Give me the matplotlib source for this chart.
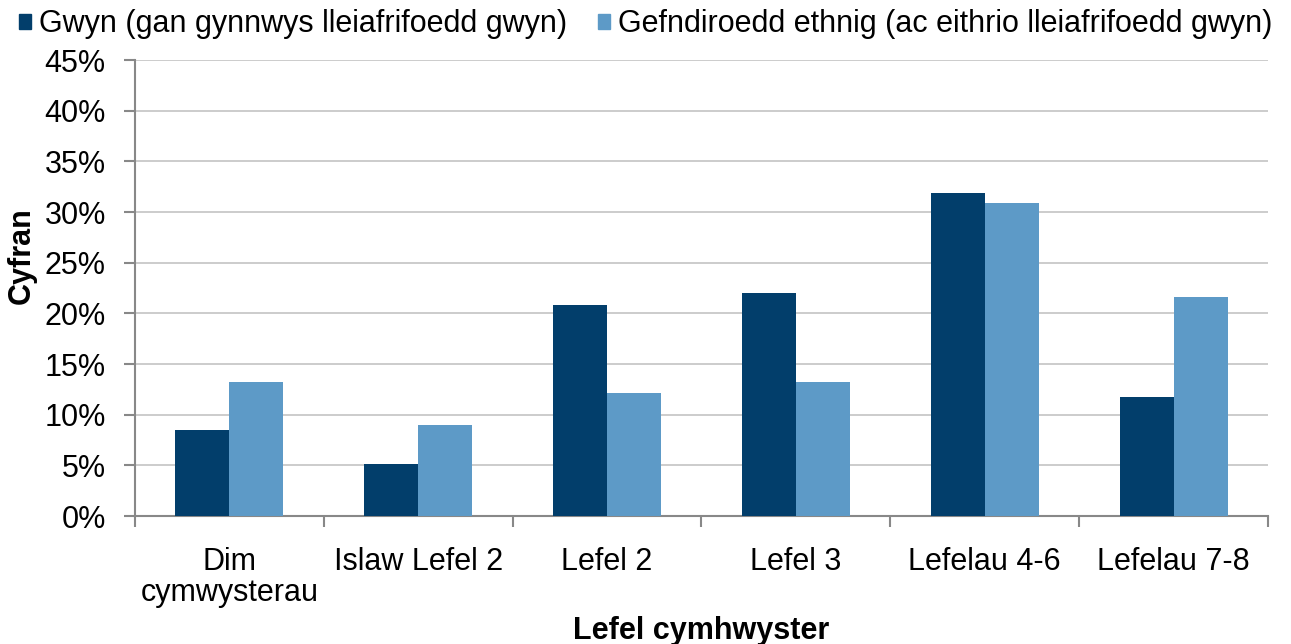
import matplotlib
matplotlib.use("Agg")
import matplotlib.pyplot as plt
import numpy as np
from matplotlib.patches import Patch

categories = ["Dim\ncymwysterau", "Islaw Lefel 2", "Lefel 2", "Lefel 3", "Lefelau 4-6", "Lefelau 7-8"]
series_names = ["Gwyn (gan gynnwys lleiafrifoedd gwyn)", "Gefndiroedd ethnig (ac eithrio lleiafrifoedd gwyn)"]
white = [8.5, 5.1, 20.8, 22.0, 31.9, 11.7]
ethnic = [13.2, 9.0, 12.1, 13.2, 30.9, 21.6]
yticks = [0, 5, 10, 15, 20, 25, 30, 35, 40, 45]

c_dark = "#023E6B"
c_light = "#5D9AC7"

plt.rcParams['font.family'] = ['Liberation Sans', 'DejaVu Sans']
FS = 22

fig = plt.figure(figsize=(12.91, 6.44), dpi=100)
ax = fig.add_axes([135/1291, 1-516/644, (1268-135)/1291, (516-60)/644])

x = np.arange(len(categories))
w = 0.286
ax.bar(x - w/2, white, w, color=c_dark, zorder=3)
ax.bar(x + w/2, ethnic, w, color=c_light, zorder=3)

ax.set_xlim(-0.5, len(categories) - 0.5)
ax.set_ylim(0, 45)
ax.set_yticks(yticks)
ax.set_yticklabels([f"{v}%" for v in yticks], fontsize=FS)
ax.yaxis.grid(True, color="#C8C8C8", linewidth=1.3, zorder=0)
ax.set_axisbelow(True)

ax.set_xticks(x)
ax.set_xticklabels(categories, fontsize=FS, linespacing=1.05)
ax.set_xticks(np.arange(-0.5, len(categories)), minor=True)
ax.tick_params(axis='x', which='major', length=0, pad=22)
ax.tick_params(axis='x', which='minor', length=8, width=1.5, color="#888888")
ax.tick_params(axis='y', length=8, width=1.5, color="#888888", pad=13)

for s in ['top', 'right']:
    ax.spines[s].set_visible(False)
for s in ['left', 'bottom']:
    ax.spines[s].set_color("#888888")
    ax.spines[s].set_linewidth(1.5)

ax.set_ylabel("Cyfran", fontsize=FS, fontweight='bold')
ax.yaxis.set_label_coords((37 - 135) / 1133, (516 - 256) / 456)
ax.set_xlabel("Lefel cymhwyster", fontsize=FS, fontweight='bold', labelpad=6)

handles = [Patch(color=c_dark), Patch(color=c_light)]
fig.legend(handles, series_names, loc='upper center', bbox_to_anchor=(0.5, 1.028),
           ncol=2, frameon=False, fontsize=FS, handlelength=0.42, handleheight=0.42,
           handletextpad=0.25, columnspacing=1.0)

fig.savefig("out.png", dpi=100)
